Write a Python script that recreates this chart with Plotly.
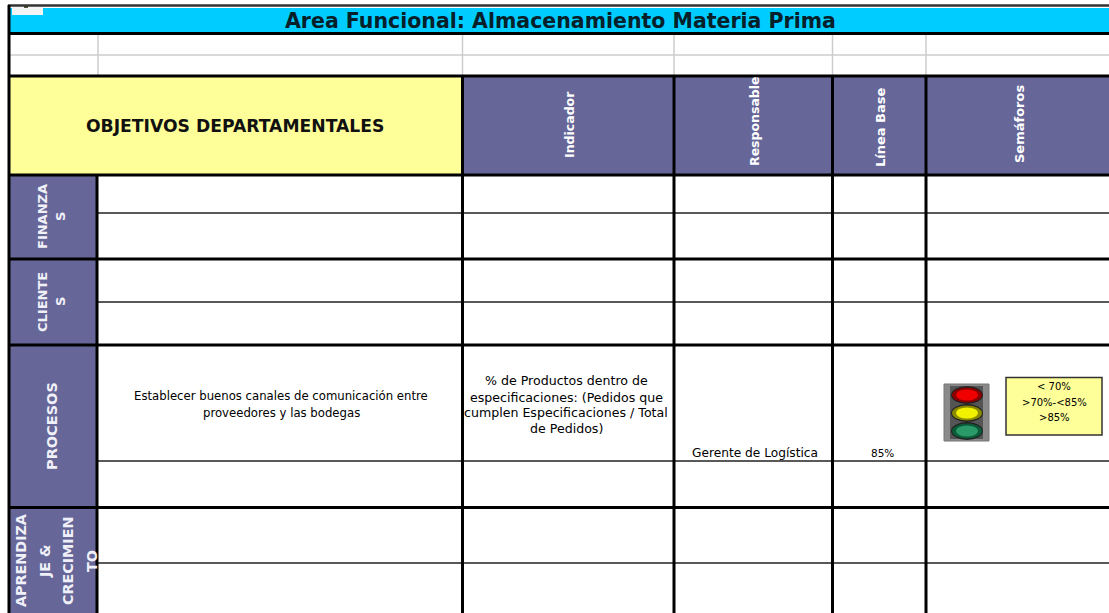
import plotly.graph_objects as go

W, H = 1109, 613
PURPLE, YELLOW, CYAN, BLACK, GRID = "#666699", "#FFFF99", "#00CCFF", "#000000", "#CCCCCC"
TITLE = "Area Funcional: Almacenamiento Materia Prima"
OBJ_HEADER = "OBJETIVOS DEPARTAMENTALES"
COLUMN_HEADERS = ["Indicador", "Responsable", "Línea Base", "Semáforos"]
PERSPECTIVES = [["FINANZA", "S"], ["CLIENTE", "S"], ["PROCESOS"], ["APRENDIZA", "JE &", "CRECIMIEN", "TO"]]
OBJECTIVE = ["Establecer buenos canales de comunicación entre", "proveedores y las bodegas"]
INDICATOR = ["% de Productos dentro de", "especificaciones: (Pedidos que", "cumplen Especificaciones / Total", "de Pedidos)"]
OWNER = "Gerente de Logística"
BASELINE = "85%"
THRESHOLDS = ["< 70%", ">70%-<85%", ">85%"]

COL_X = [98, 462.5, 674, 832.5, 926]
THICK_Y = [175, 259, 345, 507.5]
THIN_Y = [213, 302, 461, 563]

shapes, ann = [], []
def rect(x0, y0, x1, y1, fill, line=None, lw=0, kind="rect"):
    shapes.append(dict(type=kind, x0=x0, y0=y0, x1=x1, y1=y1, fillcolor=fill, layer="above",
                       line=dict(color=line or fill, width=lw)))
def seg(x0, y0, x1, y1, color=BLACK, lw=3):
    shapes.append(dict(type="line", x0=x0, y0=y0, x1=x1, y1=y1, layer="above", line=dict(color=color, width=lw)))
def text(x, y, s, size=10, color="#111111", angle=0, bold=False, family="DejaVu Sans"):
    ann.append(dict(x=x, y=y, text=f"<b>{s}</b>" if bold else s, showarrow=False, textangle=angle,
                    font=dict(size=size, color=color, family=family), xanchor="center", yanchor="middle"))

# fills
rect(10, 8, W, 33, CYAN)
rect(10, 77, 461, 174, YELLOW)
rect(463, 77, W, 174, PURPLE)
rect(10, 176, 96, H, PURPLE)
rect(12, 7, 43, 15, "#F4F4F4")
rect(24, 6, 28, 8, "#555533")

# pale grid in the spacer rows
seg(10, 55, W, 55, GRID, 1.5)
for x in COL_X:
    seg(x, 34, x, 76, GRID, 1.5)

# thin row rules
for y in THIN_Y:
    seg(98, y, W, y, "#222222", 1.5)

# heavy rules
seg(8, 5.5, W, 5.5, "#333333", 2.5)
seg(9, 5, 9, H, BLACK, 3)
seg(9, 33.5, W, 33.5, BLACK, 3)
seg(9, 76, W, 76, BLACK, 3)
for y in THICK_Y:
    seg(9, y, W, y, BLACK, 3)
seg(COL_X[0] - 1, 175, COL_X[0] - 1, H, BLACK, 3)
for x in COL_X[1:]:
    seg(x, 76, x, H, BLACK, 3)

# traffic light
rect(944, 384, 989, 441, "#8A8A8A", "#777777", 1)
rect(950, 386, 983, 439, "#555555")
for cy, outer, inner in [(395, "#8A0000", "#F00000"), (413, "#8A8A00", "#F2F200"), (431, "#0B5A38", "#2A9A68")]:
    rect(951, cy - 9, 983, cy + 9, "#222222", kind="circle")
    rect(952, cy - 7.5, 982, cy + 7.5, outer, kind="circle")
    rect(956, cy - 5.5, 978, cy + 5.5, inner, kind="circle")

# threshold note
rect(1006, 377.5, 1102, 435, YELLOW, "#333333", 1.5)
for y, s in zip([386, 402, 417], THRESHOLDS):
    text(1054, y, s, 10, "#000000")

# texts
text(560, 21, TITLE, 20.5, "#06202A", bold=True)
text(235, 126, OBJ_HEADER, 17.2, "#111111", bold=True)
for x, y, s, size in zip([569, 754, 880, 1019], [125, 121, 127, 124], COLUMN_HEADERS, [12.5, 12.5, 13, 13]):
    text(x, y, s, size, "#FFFFFF", -90, True)

persp_x = [[42, 60], [42, 60], [52], [21, 45, 68, 92]]
persp_y = [217, 302, 426, 561]
persp_size = [13, 13, 14.5, 14.3]
for xs, y, lines, size in zip(persp_x, persp_y, PERSPECTIVES, persp_size):
    for x, s in zip(xs, lines):
        text(x, y, s, size, "#F0F0F8", -90, True)

for y, s in zip([396, 413], OBJECTIVE):
    text(281, y, s, 11.7, "#000000")
for y, s in zip([380, 397, 412, 428], INDICATOR):
    text(566, y, s, 12.6, "#000000")
text(755, 453, OWNER, 12.2, "#000000")
text(882, 453, BASELINE, 10.5, "#000000")

fig = go.Figure()
fig.update_layout(width=W, height=H, margin=dict(l=0, r=0, t=0, b=0), paper_bgcolor="white", plot_bgcolor="white",
                  xaxis=dict(range=[0, W], visible=False, fixedrange=True),
                  yaxis=dict(range=[H, 0], visible=False, fixedrange=True),
                  shapes=shapes, annotations=ann, showlegend=False)
fig.write_html("out.html", config={"displayModeBar": False},
               post_script="document.body.style.margin='0';document.body.style.overflow='hidden';")
